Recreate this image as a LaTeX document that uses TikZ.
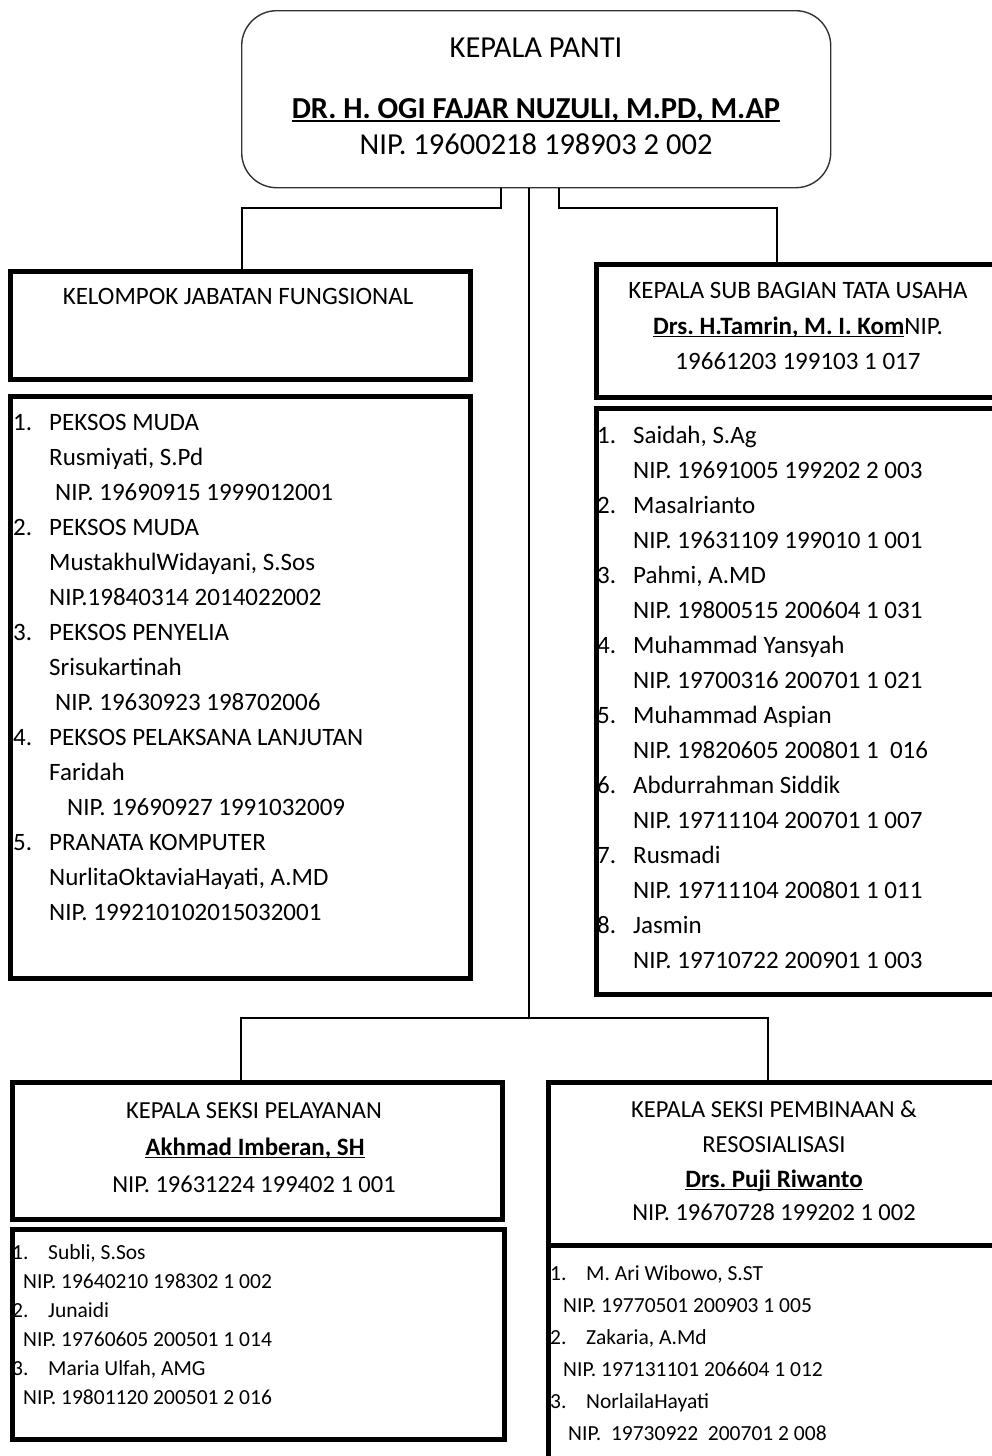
\documentclass[tikz,border=0pt]{standalone}
\usepackage{fontspec}
\setmainfont{Carlito}
\newcommand{\myul}[1]{\setbox0=\hbox{#1}\leavevmode\rlap{\rule[-0.13em]{\wd0}{0.065em}}\box0}
\begin{document}
\frenchspacing
\begin{tikzpicture}[x=1pt,y=-1pt,
  conn/.style={line width=1.5pt, draw=black},
  topbox/.style={draw=black!80, line width=1.4pt, rounded corners=35pt, inner sep=0pt, anchor=north west},
  boxk/.style={draw=black, line width=4.5pt, inner sep=0pt, anchor=north west},
  tp/.style={font=\fontsize{30.5}{36}\selectfont, inner sep=0pt, anchor=base},
  hdr/.style={font=\fontsize{25}{30}\selectfont, inner sep=0pt, anchor=base},
  lst/.style={font=\fontsize{25}{30}\selectfont, inner sep=0pt, anchor=base west},
  bhdr/.style={font=\fontsize{24.5}{30}\selectfont, inner sep=0pt, anchor=base},
  bname/.style={font=\fontsize{25}{30}\selectfont, inner sep=0pt, anchor=base},
  blst/.style={font=\fontsize{21.5}{26}\selectfont, inner sep=0pt, anchor=base west}]
\useasboundingbox (0,0) rectangle (992,1456);
\clip (0,0) rectangle (992,1456);
\fill[white] (0,0) rectangle (992,1456);

% boxes
\node[topbox, minimum width=589pt, minimum height=177pt] (top) at (241,10) {};
\node[boxk, minimum width=460pt, minimum height=108pt] (fung) at (8,269) {};
\node[boxk, minimum width=460pt, minimum height=582pt] (fungl) at (8,394) {};
\node[boxk, minimum width=430pt, minimum height=133pt] (tu) at (594,262) {};
\node[boxk, minimum width=430pt, minimum height=586pt] (tul) at (594,406) {};
\node[boxk, minimum width=490pt, minimum height=137pt] (pel) at (10,1080) {};
\node[boxk, minimum width=492pt, minimum height=210pt] (pell) at (10,1227) {};
\node[boxk, minimum width=470pt, minimum height=163pt] (pem) at (546,1080) {};
\node[boxk, minimum width=470pt, minimum height=240pt] (peml) at (546,1243) {};

% connectors
\coordinate (lk) at (501,208);
\coordinate (lx) at (242,208);
\coordinate (rk) at (559,208);
\coordinate (rx) at (777,208);
\coordinate (jn) at (529,1018);
\coordinate (bl) at (241,1018);
\coordinate (br) at (768,1018);
\draw[conn] (lk |- top.south) -- (lk) -- (lx) -- (lx |- fung.north);
\draw[conn] (rk |- top.south) -- (rk) -- (rx) -- (rx |- tu.north);
\draw[conn] (jn |- top.south) -- (jn);
\draw[conn] (bl |- pel.north) -- (bl) -- (br) -- (br |- pem.north);

% top texts
\node[tp] (t1) at (536,57) {KEPALA PANTI};
\node[tp] (t2) at (536,118) {\myul{\bfseries DR. H. OGI FAJAR NUZULI, M.PD, M.AP}};
\node[tp] (t3) at (536,154) {NIP. 19600218 198903 2 002};

% fungsional
\node[hdr] (f0) at (238,304) {KELOMPOK JABATAN FUNGSIONAL};
\node[lst] (fn1) at (13,430) {1.};
\node[lst] (fa1) at (49,430) {PEKSOS MUDA};
\node[lst] (fb1) at (49,465) {Rusmiyati, S.Pd};
\node[lst] (fc1) at (55,500) {NIP. 19690915 1999012001};
\node[lst] (fn2) at (13,535) {2.};
\node[lst] (fa2) at (49,535) {PEKSOS MUDA};
\node[lst] (fb2) at (49,570) {MustakhulWidayani, S.Sos};
\node[lst] (fc2) at (49,605) {NIP.19840314 2014022002};
\node[lst] (fn3) at (13,640) {3.};
\node[lst] (fa3) at (49,640) {PEKSOS PENYELIA};
\node[lst] (fb3) at (49,675) {Srisukartinah};
\node[lst] (fc3) at (55,710) {NIP. 19630923 198702006};
\node[lst] (fn4) at (13,745) {4.};
\node[lst] (fa4) at (49,745) {PEKSOS PELAKSANA LANJUTAN};
\node[lst] (fb4) at (49,780) {Faridah};
\node[lst] (fc4) at (67,815) {NIP. 19690927 1991032009};
\node[lst] (fn5) at (13,850) {5.};
\node[lst] (fa5) at (49,850) {PRANATA KOMPUTER};
\node[lst] (fb5) at (49,885) {NurlitaOktaviaHayati, A.MD};
\node[lst] (fc5) at (49,920) {NIP. 199210102015032001};

% tata usaha
\node[hdr] (u1) at (798,298) {KEPALA SUB BAGIAN TATA USAHA};
\node[hdr] (u2) at (798,334) {\myul{\bfseries Drs. H.Tamrin, M. I. Kom}NIP.};
\node[hdr] (u3) at (798,369) {19661203 199103 1 017};
\node[lst] (un1) at (597,443) {1.};
\node[lst] (ua1) at (633,443) {Saidah, S.Ag};
\node[lst] (ub1) at (633,478) {NIP. 19691005 199202 2 003};
\node[lst] (un2) at (597,513) {2.};
\node[lst] (ua2) at (633,513) {MasaIrianto};
\node[lst] (ub2) at (633,548) {NIP. 19631109 199010 1 001};
\node[lst] (un3) at (597,583) {3.};
\node[lst] (ua3) at (633,583) {Pahmi, A.MD};
\node[lst] (ub3) at (633,618) {NIP. 19800515 200604 1 031};
\node[lst] (un4) at (597,653) {4.};
\node[lst] (ua4) at (633,653) {Muhammad Yansyah};
\node[lst] (ub4) at (633,688) {NIP. 19700316 200701 1 021};
\node[lst] (un5) at (597,723) {5.};
\node[lst] (ua5) at (633,723) {Muhammad Aspian};
\node[lst] (ub5) at (633,758) {NIP. 19820605 200801 1~ 016};
\node[lst] (un6) at (597,793) {6.};
\node[lst] (ua6) at (633,793) {Abdurrahman Siddik};
\node[lst] (ub6) at (633,828) {NIP. 19711104 200701 1 007};
\node[lst] (un7) at (597,863) {7.};
\node[lst] (ua7) at (633,863) {Rusmadi};
\node[lst] (ub7) at (633,898) {NIP. 19711104 200801 1 011};
\node[lst] (un8) at (597,933) {8.};
\node[lst] (ua8) at (633,933) {Jasmin};
\node[lst] (ub8) at (633,968) {NIP. 19710722 200901 1 003};

% pelayanan
\node[bhdr] (p1) at (254,1118) {KEPALA SEKSI PELAYANAN};
\node[bname] (p2) at (255,1155) {\myul{\bfseries Akhmad Imberan, SH}};
\node[bhdr] (p3) at (254,1192) {NIP. 19631224 199402 1 001};
\node[blst] (pn1) at (12,1259) {1.};
\node[blst] (pa1) at (48,1259) {Subli, S.Sos};
\node[blst] (pb1) at (23,1288) {NIP. 19640210 198302 1 002};
\node[blst] (pn2) at (12,1317) {2.};
\node[blst] (pa2) at (48,1317) {Junaidi};
\node[blst] (pb2) at (23,1346) {NIP. 19760605 200501 1 014};
\node[blst] (pn3) at (12,1375) {3.};
\node[blst] (pa3) at (48,1375) {Maria Ulfah, AMG};
\node[blst] (pb3) at (23,1404) {NIP. 19801120 200501 2 016};

% pembinaan
\node[bhdr] (m1) at (774,1117) {KEPALA SEKSI PEMBINAAN \&};
\node[bhdr] (m2) at (774,1152) {RESOSIALISASI};
\node[bname] (m3) at (774,1187) {\myul{\bfseries Drs. Puji Riwanto}};
\node[bhdr] (m4) at (774,1220) {NIP. 19670728 199202 1 002};
\node[blst] (mn1) at (550,1280) {1.};
\node[blst] (ma1) at (586,1280) {M. Ari Wibowo, S.ST};
\node[blst] (mb1) at (563,1312) {NIP. 19770501 200903 1 005};
\node[blst] (mn2) at (550,1344) {2.};
\node[blst] (ma2) at (586,1344) {Zakaria, A.Md};
\node[blst] (mb2) at (563,1376) {NIP. 197131101 206604 1 012};
\node[blst] (mn3) at (550,1408) {3.};
\node[blst] (ma3) at (586,1408) {NorlailaHayati};
\node[blst] (mb3) at (568,1440) {NIP.~ 19730922~ 200701 2 008};
\end{tikzpicture}
\end{document}
